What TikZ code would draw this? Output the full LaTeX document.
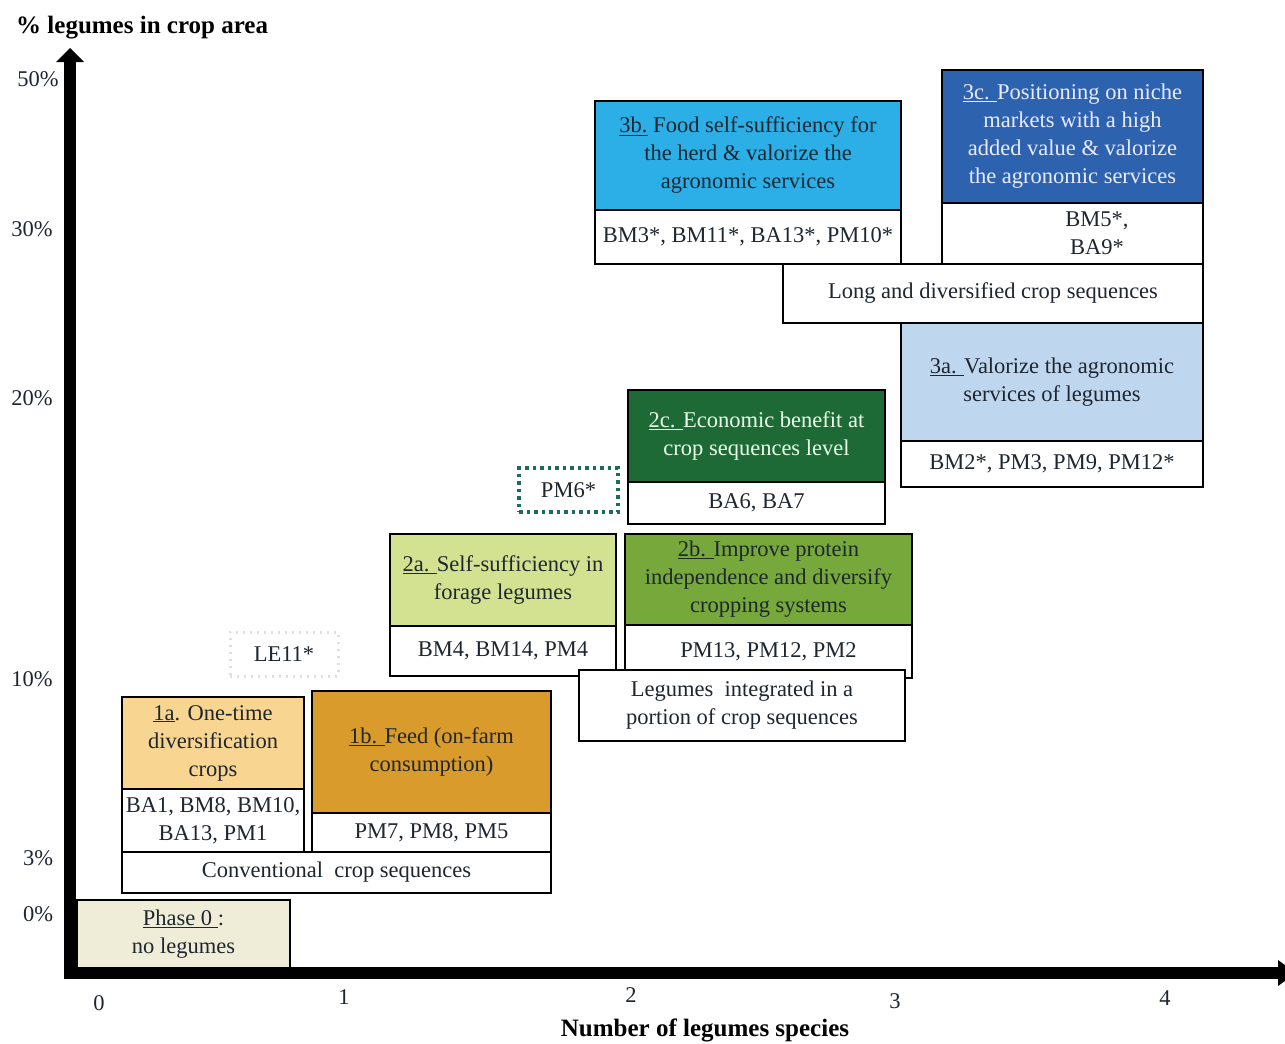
\documentclass[tikz,border=0pt]{standalone}
\usepackage{fontspec}
\setmainfont{Liberation Serif}
\definecolor{cP0}{HTML}{EFEDD8}
\definecolor{cA1}{HTML}{F8D590}
\definecolor{cB1}{HTML}{D89B2C}
\definecolor{cA2}{HTML}{D3E290}
\definecolor{cB2}{HTML}{77A83C}
\definecolor{cC2}{HTML}{1D6A36}
\definecolor{cA3}{HTML}{BED6EE}
\definecolor{cB3}{HTML}{2BAFE6}
\definecolor{cC3}{HTML}{2D62AE}
\definecolor{txt}{HTML}{1E2630}
\definecolor{teal6}{HTML}{1E6B5E}
\newcommand\myfs{\fontsize{22.5}{28}\selectfont}
\begin{document}
\begin{tikzpicture}[x=1pt,y=-1pt,
  box/.style={draw=black, line width=1.6pt, inner sep=0pt, outer sep=0pt,
    anchor=north west, align=center, font=\myfs, text=txt},
  lab/.style={font=\myfs, text=txt, inner sep=0pt},
  ttl/.style={font=\fontsize{25}{28}\selectfont\bfseries, text=black, inner sep=0pt},
  axis/.style={line width=12pt, black}
]
\clip (0,0) rectangle (1285,1044);
\fill[white] (0,0) rectangle (1285,1044);

% axes
\coordinate (o) at (70,973);
\coordinate (ytop) at (70,60);
\coordinate (xend) at (1280,973);
\draw[axis] (70,979) -- (ytop);
\draw[axis] (64,973) -- (xend);
\fill[black] (56,62) -- (70,48) -- (84,62) -- cycle;
\fill[black] (1278,960) -- (1296,973) -- (1278,986) -- cycle;

% axis titles
\node[ttl, anchor=west] (ytitle) at (16,28) {\% legumes in crop area};
\node[ttl] (xtitle) at (705,1030) {Number of legumes species};

% y tick labels
\node[lab] (y50) at (38,79) {50\%};
\node[lab] (y30) at (32,229) {30\%};
\node[lab] (y20) at (32,398) {20\%};
\node[lab] (y10) at (32,679) {10\%};
\node[lab] (y3) at (38,858) {3\%};
\node[lab] (y0) at (38,914) {0\%};
% x tick labels
\node[lab] (x0) at (99,1003) {0};
\node[lab] (x1) at (344,997) {1};
\node[lab] (x2) at (631,995) {2};
\node[lab] (x3) at (895,1001) {3};
\node[lab] (x4) at (1165,998) {4};

% phase 0
\node[box, fill=cP0, minimum width=213, minimum height=68] (p0) at (77,900)
  {\underline{Phase 0 }:\\no legumes};

% phase 1
\node[box, fill=cA1, minimum width=182, minimum height=92] (a1) at (122,697)
  {\underline{1a}. One-time\\diversification\\crops};
\node[box, fill=white, minimum width=182, minimum height=63] (a1l) at (122,789)
  {BA1, BM8, BM10,\\BA13, PM1};
\node[box, fill=cB1, minimum width=239, minimum height=122] (b1) at (312,691)
  {\underline{1b. }Feed (on-farm\\consumption)};
\node[box, fill=white, minimum width=239, minimum height=39] (b1l) at (312,813)
  {PM7, PM8, PM5};
\node[box, fill=white, minimum width=429, minimum height=41] (conv) at (122,852)
  {Conventional\ \ crop sequences};

% LE11
\node[box, draw=gray!25, line width=3pt, dash pattern=on 2pt off 5pt, minimum width=108, minimum height=44] (le11) at (230,632)
  {LE11*};

% phase 2
\node[box, fill=cA2, minimum width=226, minimum height=92] (a2) at (390,534)
  {\underline{2a. }Self-sufficiency\ in\\forage legumes};
\node[box, fill=white, minimum width=226, minimum height=50] (a2l) at (390,626)
  {BM4, BM14, PM4};
\node[box, fill=cB2, minimum width=287, minimum height=91] (b2) at (625,534)
  {\underline{2b. }Improve protein\\independence and diversify\\cropping systems};
\node[box, fill=white, minimum width=287, minimum height=53] (b2l) at (625,625)
  {PM13, PM12, PM2};
\node[box, fill=white, minimum width=326, minimum height=71] (legint) at (579,670)
  {Legumes\ \ integrated in a\\portion of crop sequences};
\node[box, draw=teal6, line width=3.5pt, dash pattern=on 3.5pt off 4pt, minimum width=99, minimum height=44] (pm6) at (519,468)
  {PM6*};
\node[box, fill=cC2, text=green!8!white, minimum width=257, minimum height=92] (c2) at (628,390)
  {\underline{2c. }Economic benefit at\\crop sequences level};
\node[box, fill=white, minimum width=257, minimum height=42] (c2l) at (628,482)
  {BA6, BA7};

% phase 3
\node[box, fill=cA3, minimum width=302, minimum height=118] (a3) at (901,323)
  {\underline{3a. }Valorize the agronomic\\services of legumes};
\node[box, fill=white, minimum width=302, minimum height=46] (a3l) at (901,441)
  {BM2*, PM3, PM9, PM12*};
\node[box, fill=white, minimum width=420, minimum height=59] (long) at (783,264)
  {Long and diversified crop sequences};
\node[box, fill=cB3, minimum width=306, minimum height=109] (b3) at (595,101)
  {\underline{3b.} Food self-sufficiency for\\the herd \& valorize the\\agronomic services};
\node[box, fill=white, minimum width=306, minimum height=54] (b3l) at (595,210)
  {BM3*, BM11*, BA13*, PM10*};
\node[box, fill=cC3, text=white!92!blue, minimum width=261, minimum height=133] (c3) at (942,70)
  {\underline{3c. }Positioning on niche\\markets with a high\\added value \& valorize\\the agronomic services};
\node[box, fill=white, minimum width=261, minimum height=61] (c3l) at (942,203) {};
\node[lab, align=center] (c3t) at (1097,233) {BM5*,\\BA9*};
\end{tikzpicture}
\end{document}
